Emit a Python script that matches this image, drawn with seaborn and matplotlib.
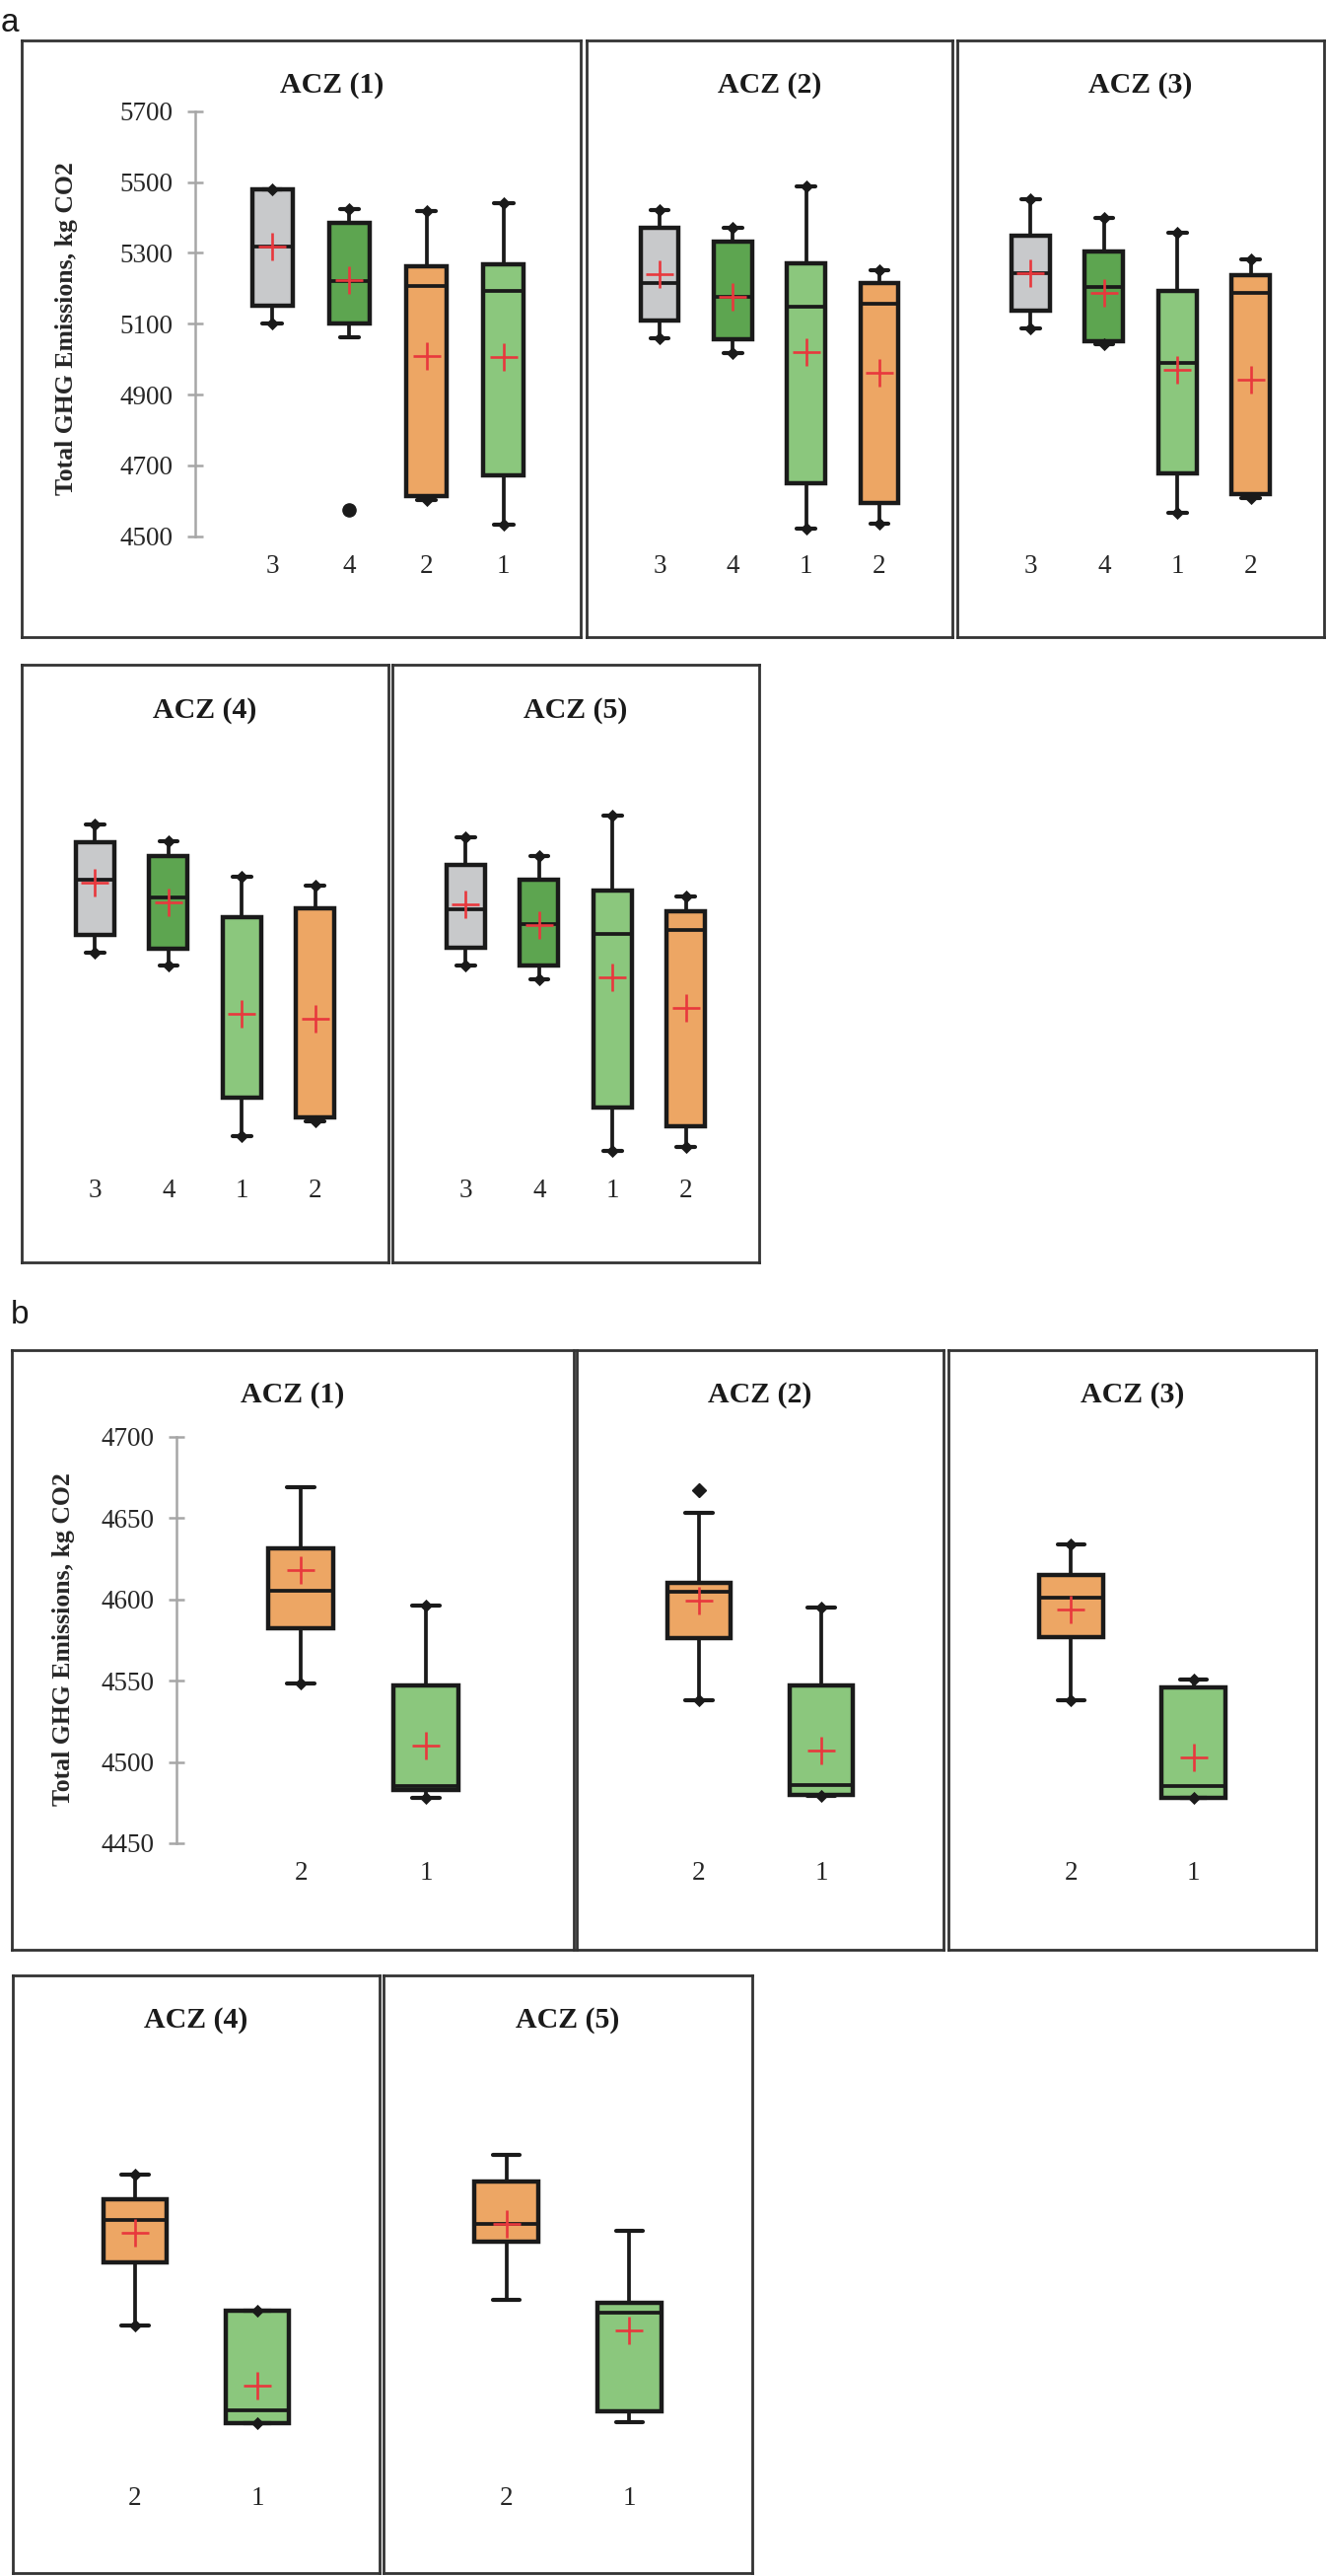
import matplotlib
matplotlib.use("Agg")
import matplotlib.pyplot as plt
import seaborn as sns

# ---------------- values ----------------
zones = ["ACZ (1)", "ACZ (2)", "ACZ (3)", "ACZ (4)", "ACZ (5)"]

# panel a: scenarios 1-4, total GHG emissions (kg CO2)
a_order = [["3", "4", "2", "1"], ["3", "4", "1", "2"], ["3", "4", "1", "2"],
           ["3", "4", "1", "2"], ["3", "4", "1", "2"]]
a_low = [[5100, 5061, 4602, 4532], [5059, 5018, 4523, 4535], [5088, 5041, 4567, 4608],
         [5088, 5050, 4568, 4612], [5052, 5013, 4526, 4538]]
a_q1 = [[5150, 5100, 4614, 4672], [5110, 5057, 4651, 4595], [5137, 5050, 4678, 4620],
        [5138, 5099, 4678, 4622], [5101, 5050, 4651, 4597]]
a_med = [[5317, 5221, 5206, 5194], [5216, 5177, 5149, 5157], [5244, 5205, 4989, 5186],
         [5294, 5243, 5186, 5212], [5209, 5169, 5140, 5152]]
a_q3 = [[5480, 5385, 5261, 5268], [5372, 5333, 5271, 5216], [5348, 5303, 5194, 5238],
        [5399, 5360, 5186, 5212], [5334, 5292, 5262, 5203]]
a_high = [[5480, 5425, 5419, 5440], [5422, 5372, 5487, 5252], [5452, 5399, 5358, 5282],
          [5450, 5402, 5302, 5275], [5413, 5360, 5475, 5245]]
a_mean = [[5319, 5224, 5010, 5006], [5239, 5177, 5021, 4963], [5244, 5187, 4971, 4942],
          [5285, 5229, 4914, 4900], [5222, 5164, 5016, 4931]]
a_fliers = [[[], [4575], [], []], [[], [], [], []], [[], [], [], []],
            [[], [], [], []], [[], [], [], []]]
# which whisker ends carry a small point marker
a_tips = [["both", "high", "both", "both"], ["both"] * 4, ["both"] * 4,
          ["both"] * 4, ["both"] * 4]

# panel b: scenarios 1-2 only
b_order = [["2", "1"]] * 5
b_low = [[4548, 4478], [4538, 4479], [4538, 4478], [4538, 4478], [4554, 4478.5]]
b_q1 = [[4582, 4483], [4576, 4479.5], [4577, 4478], [4577, 4478], [4589.5, 4485]]
b_med = [[4605.5, 4485], [4605, 4486], [4601, 4485], [4603, 4486], [4600.5, 4546]]
b_q3 = [[4631.5, 4547], [4610, 4547], [4615, 4546], [4615.5, 4547], [4626.5, 4552]]
b_high = [[4669, 4596], [4653, 4595], [4634, 4551], [4631, 4547], [4643, 4596]]
b_mean = [[4618, 4510], [4599, 4507], [4594, 4503], [4595, 4501], [4600.5, 4535]]
b_fliers = [[[], []], [[4667], []], [[], []], [[], []], [[], []]]
b_tips = [["low", "both"], ["low", "both"], ["both", "both"], ["both", "both"], ["none", "none"]]

scenario_colors = {"1": "#8BC77D", "2": "#EDA664", "3": "#C8C9CB", "4": "#5DA550"}
ylabel = "Total GHG Emissions, kg CO2"

# ---------------- layout (pixels of the 1346 x 2612 output) ----------------
W, H = 1346, 2612
a_frames = [(22, 41, 589, 646), (595, 41, 966, 646), (971, 41, 1343, 646),
            (22, 674, 394, 1280), (398, 674, 770, 1280)]
a_plot_x = [(198, 589), (595, 966), (971, 1343), (22, 394), (398, 770)]
a_title_x = [337, None, None, None, None]
b_frames = [(12, 1369, 582, 1977), (585, 1369, 957, 1977), (962, 1369, 1335, 1977),
            (13, 2003, 385, 2609), (389, 2003, 763, 2609)]
b_plot_x = [(178.6, 558.7), (585, 957), (962, 1335), (13, 385), (389, 763)]
b_title_x = [297, None, None, None, None]

sns.set_style("white")
plt.rcParams["font.family"] = ["Liberation Serif", "DejaVu Serif"]
plt.rcParams["text.color"] = "#1a1a1a"

INK = "#1a1a1a"


def rect(l, t, r, b):
    return [l / W, 1 - b / H, (r - l) / W, (b - t) / H]


def draw_zone(fig, frame, plot_x, off, title, title_x, order, low, q1, med, q3, high,
              mean, fliers, tips, ylim, yticks, show_axis, flier_marker, flier_size,
              capw, label_xy):
    l, t, r, b = frame
    fr = fig.add_axes(rect(l, t, r, b))
    fr.set_xticks([])
    fr.set_yticks([])
    for s in fr.spines.values():
        s.set_visible(True)
        s.set_linewidth(2)
        s.set_color("#333333")
    tx = (l + r) / 2 if title_x is None else title_x
    fr.text((tx - l) / (r - l), 1 - 46 / (b - t), title, transform=fr.transAxes,
            ha="center", va="center", fontsize=21.5, fontweight="bold")

    ax = fig.add_axes(rect(plot_x[0], t + off[0], plot_x[1], t + off[1]))
    ax.patch.set_alpha(0)
    n = len(order)
    stats = []
    for i in range(n):
        stats.append(dict(whislo=low[i], q1=q1[i], med=med[i], q3=q3[i],
                          whishi=high[i], fliers=fliers[i], label=order[i]))
    art = ax.bxp(stats, positions=list(range(n)), widths=0.52, capwidths=capw,
                 patch_artist=True, showfliers=True,
                 boxprops=dict(edgecolor=INK, linewidth=3.2),
                 medianprops=dict(color=INK, linewidth=2.7),
                 whiskerprops=dict(color=INK, linewidth=2.7),
                 capprops=dict(color=INK, linewidth=3.0),
                 flierprops=dict(marker=flier_marker, markerfacecolor=INK,
                                 markeredgecolor=INK, markersize=flier_size))
    for patch, cat in zip(art["boxes"], order):
        patch.set_facecolor(scenario_colors[cat])

    # small point markers at whisker ends
    px, py = [], []
    for i, tip in enumerate(tips):
        if tip in ("low", "both"):
            px.append(i)
            py.append(low[i])
        if tip in ("high", "both"):
            px.append(i)
            py.append(high[i])
    if px:
        sns.scatterplot(x=px, y=py, marker="D", s=45, color=INK, linewidth=0,
                        ax=ax, zorder=4, legend=False)
    # mean markers
    sns.scatterplot(x=list(range(n)), y=mean, marker="+", s=380, color="#E8383D",
                    linewidth=1.9, ax=ax, zorder=5, legend=False)

    ax.set_xlim(-1, n)
    ax.set_ylim(*ylim)
    for side in ["top", "right", "bottom"]:
        ax.spines[side].set_visible(False)
    ax.set_xticks(list(range(n)))
    ax.set_xticklabels(order)
    ax.tick_params(axis="x", length=0, labelsize=19.5, pad=13)
    if show_axis:
        ax.spines["left"].set_color("#A6A6A6")
        ax.spines["left"].set_linewidth(1.8)
        ax.set_yticks(yticks)
        ax.tick_params(axis="y", direction="inout", length=12, width=1.8,
                       color="#A6A6A6", labelsize=19.5, pad=10, left=True)
        ax.set_ylabel(ylabel, fontsize=18.5, fontweight="bold")
        ax.yaxis.label.set_va("center")
        ax.yaxis.set_label_coords(*label_xy)
    else:
        ax.spines["left"].set_visible(False)
        ax.set_yticks([])
    ax.set_xlabel("")
    return ax


fig = plt.figure(figsize=(W / 100, H / 100), dpi=100)

for i, zone in enumerate(zones):
    draw_zone(fig, a_frames[i], a_plot_x[i], (71.8, 502.8), zone, a_title_x[i],
              a_order[i], a_low[i], a_q1[i], a_med[i], a_q3[i], a_high[i],
              a_mean[i], a_fliers[i], a_tips[i], (4500, 5700),
              [4500, 4700, 4900, 5100, 5300, 5500, 5700], i == 0, "o", 9.5, 0.25,
              (-0.335, 0.49))
    draw_zone(fig, b_frames[i], b_plot_x[i], (88, 500), zone, b_title_x[i],
              b_order[i], b_low[i], b_q1[i], b_med[i], b_q3[i], b_high[i],
              b_mean[i], b_fliers[i], b_tips[i], (4450, 4700),
              [4450, 4500, 4550, 4600, 4650, 4700], i == 0, "D", 7, 0.22,
              (-0.30, 0.503))

fig.text(1 / W, 1 - 32 / H, "a", fontsize=24, family="Liberation Sans", va="baseline")
fig.text(11 / W, 1 - 1342 / H, "b", fontsize=24, family="Liberation Sans", va="baseline")

fig.savefig("out.png", dpi=100, facecolor="white")
plt.close(fig)
